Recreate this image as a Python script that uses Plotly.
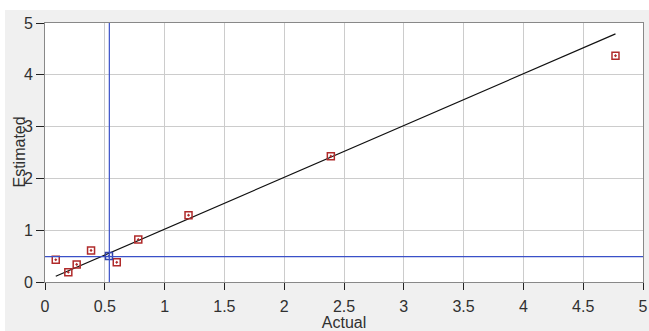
import plotly.graph_objects as go

# Data
actual = [0.09, 0.195, 0.265, 0.385, 0.60, 0.78, 1.20, 2.39, 4.77]
estimated = [0.43, 0.19, 0.34, 0.61, 0.38, 0.82, 1.29, 2.43, 4.37]
selected_actual = [0.535]
selected_estimated = [0.50]
fit_x = [0.09, 4.77]
fit_y = [0.11, 4.79]
cross_x = 0.538
cross_y = 0.49
x_ticks = [0, 0.5, 1, 1.5, 2, 2.5, 3, 3.5, 4, 4.5, 5]
y_ticks = [0, 1, 2, 3, 4, 5]

fig = go.Figure()

fig.add_trace(go.Scatter(x=fit_x, y=fit_y, mode="lines",
                         line=dict(color="#111111", width=1.2), showlegend=False))
fig.add_trace(go.Scatter(x=actual, y=estimated, mode="markers",
                         marker=dict(symbol="square-open-dot", size=7, color="#b02a2a",
                                     line=dict(width=1.5, color="#b02a2a")),
                         showlegend=False))
fig.add_trace(go.Scatter(x=selected_actual, y=selected_estimated, mode="markers",
                         marker=dict(symbol="square-open-dot", size=7, color="#3344aa",
                                     line=dict(width=1.5, color="#3344aa")),
                         showlegend=False))

# crosshair lines
fig.add_shape(type="line", xref="x", yref="y", x0=cross_x, x1=cross_x, y0=-0.08, y1=5,
              line=dict(color="#3a50c8", width=1.2))
fig.add_shape(type="line", xref="x", yref="y", x0=0, x1=5, y0=cross_y, y1=cross_y,
              line=dict(color="#3a50c8", width=1.2))

# white strips at top and left outside the gray panel
fig.add_shape(type="rect", xref="paper", yref="paper", x0=-0.08, x1=1.02,
              y0=1.050, y1=1.10, fillcolor="white", line=dict(width=0), layer="below")
fig.add_shape(type="rect", xref="paper", yref="paper", x0=-0.08, x1=-0.0669,
              y0=-0.2, y1=1.10, fillcolor="white", line=dict(width=0), layer="below")

font = dict(family="Liberation Sans, Arial, sans-serif", size=16, color="#303030")

# y-axis title placed as annotation so it can overlap the tick-label column like the original
fig.add_annotation(text="Estimated", xref="paper", yref="paper", x=0, y=0.5,
                   xanchor="center", yanchor="middle", xshift=-26, textangle=-90,
                   showarrow=False, font=font)

fig.update_layout(
    width=649, height=331,
    margin=dict(l=45, r=6, t=23, b=49, autoexpand=False),
    paper_bgcolor="#f0f0f0",
    plot_bgcolor="white",
    font=font,
    xaxis=dict(range=[0, 5], tickvals=x_ticks, ticktext=[f"{v:g}" for v in x_ticks],
               showgrid=True, gridcolor="#cccccc", gridwidth=1,
               ticks="outside", ticklen=7, tickcolor="#222222",
               ticklabelstandoff=3,
               showline=True, linecolor="#888888", mirror=True, zeroline=False,
               automargin=False,
               title=dict(text="Actual", standoff=0, font=font)),
    yaxis=dict(range=[0, 5], tickvals=y_ticks,
               showgrid=True, gridcolor="#cccccc", gridwidth=1,
               ticks="outside", ticklen=8, tickcolor="#222222",
               showline=True, linecolor="#888888", mirror=True, zeroline=False,
               automargin=False),
)

fig.write_html("out.html",
               config={"displayModeBar": False},
               post_script="document.body.style.margin='0';document.body.style.overflow='hidden';")
